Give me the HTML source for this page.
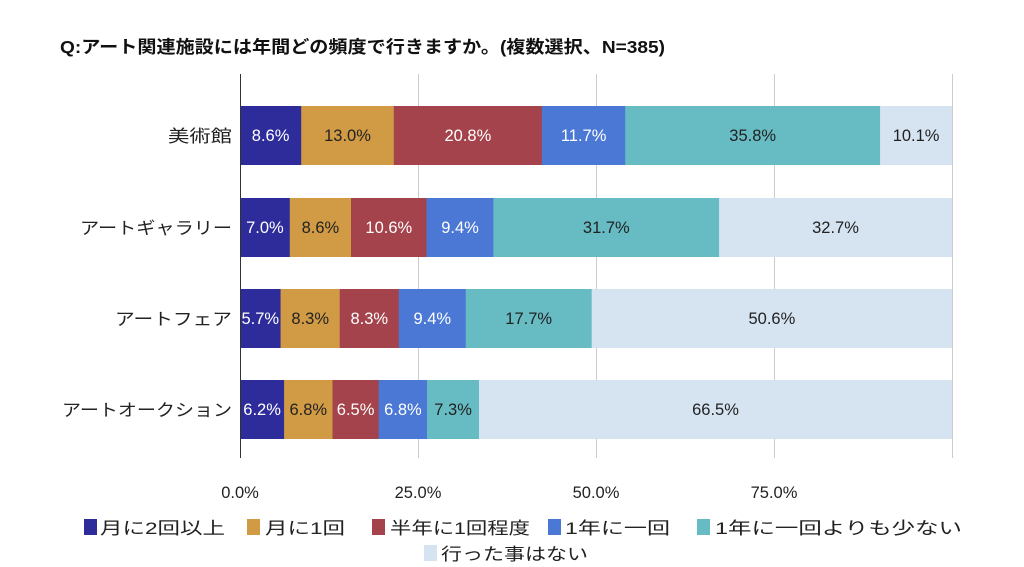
<!DOCTYPE html>
<html><head><meta charset="utf-8"><style>
body{margin:0;background:#fff;}
svg text{font-family:"Liberation Sans","Noto Sans CJK JP",sans-serif;}
</style></head><body>
<svg width="1024" height="562" xmlns="http://www.w3.org/2000/svg">
<rect width="1024" height="562" fill="#fff"/>
<text x="60" y="53" font-size="17.5" font-weight="bold" fill="#111" textLength="605" lengthAdjust="spacingAndGlyphs">Q:アート関連施設には年間どの頻度で行きますか。(複数選択、N=385)</text>
<g stroke="#ccc" stroke-width="1">
<line x1="418.5" y1="74" x2="418.5" y2="458"/>
<line x1="596.5" y1="74" x2="596.5" y2="458"/>
<line x1="774.5" y1="74" x2="774.5" y2="458"/>
<line x1="952.5" y1="74" x2="952.5" y2="458"/>
</g>
<g>
<rect x="240" y="106" width="61.5" height="59" fill="#2e2c9a"/>
<rect x="301.2" y="106" width="92.9" height="59" fill="#d19a45"/>
<rect x="393.8" y="106" width="148.4" height="59" fill="#a4434b"/>
<rect x="541.9" y="106" width="83.6" height="59" fill="#4a78d4"/>
<rect x="625.2" y="106" width="255.2" height="59" fill="#67bcc3"/>
<rect x="880.1" y="106" width="71.9" height="59" fill="#d6e3f1"/>

<rect x="240" y="198" width="50.1" height="59" fill="#2e2c9a"/>
<rect x="289.8" y="198" width="61.5" height="59" fill="#d19a45"/>
<rect x="351" y="198" width="75.8" height="59" fill="#a4434b"/>
<rect x="426.5" y="198" width="67.2" height="59" fill="#4a78d4"/>
<rect x="493.4" y="198" width="226" height="59" fill="#67bcc3"/>
<rect x="719.1" y="198" width="232.9" height="59" fill="#d6e3f1"/>

<rect x="240" y="289" width="40.9" height="59" fill="#2e2c9a"/>
<rect x="280.6" y="289" width="59.4" height="59" fill="#d19a45"/>
<rect x="339.7" y="289" width="59.4" height="59" fill="#a4434b"/>
<rect x="398.8" y="289" width="67.2" height="59" fill="#4a78d4"/>
<rect x="465.7" y="289" width="126.3" height="59" fill="#67bcc3"/>
<rect x="591.7" y="289" width="360.3" height="59" fill="#d6e3f1"/>

<rect x="240" y="380" width="44.4" height="59" fill="#2e2c9a"/>
<rect x="284.1" y="380" width="48.7" height="59" fill="#d19a45"/>
<rect x="332.5" y="380" width="46.5" height="59" fill="#a4434b"/>
<rect x="378.7" y="380" width="48.7" height="59" fill="#4a78d4"/>
<rect x="427.1" y="380" width="52.2" height="59" fill="#67bcc3"/>
<rect x="479" y="380" width="473" height="59" fill="#d6e3f1"/>
</g>
<g font-size="16.5" text-anchor="middle">
<text x="270.6" y="141" fill="#fff">8.6%</text>
<text x="347.5" y="141" fill="#222">13.0%</text>
<text x="467.9" y="141" fill="#fff">20.8%</text>
<text x="583.6" y="141" fill="#fff">11.7%</text>
<text x="752.7" y="141" fill="#222">35.8%</text>
<text x="916.1" y="141" fill="#222">10.1%</text>

<text x="264.9" y="233" fill="#fff">7.0%</text>
<text x="320.4" y="233" fill="#222">8.6%</text>
<text x="388.8" y="233" fill="#fff">10.6%</text>
<text x="460" y="233" fill="#fff">9.4%</text>
<text x="606.3" y="233" fill="#222">31.7%</text>
<text x="835.5" y="233" fill="#222">32.7%</text>

<text x="260.3" y="324" fill="#fff">5.7%</text>
<text x="310.2" y="324" fill="#222">8.3%</text>
<text x="369.3" y="324" fill="#fff">8.3%</text>
<text x="432.3" y="324" fill="#fff">9.4%</text>
<text x="528.7" y="324" fill="#222">17.7%</text>
<text x="771.9" y="324" fill="#222">50.6%</text>

<text x="262.1" y="415" fill="#fff">6.2%</text>
<text x="308.3" y="415" fill="#222">6.8%</text>
<text x="355.6" y="415" fill="#fff">6.5%</text>
<text x="402.9" y="415" fill="#fff">6.8%</text>
<text x="453.1" y="415" fill="#222">7.3%</text>
<text x="715.5" y="415" fill="#222">66.5%</text>
</g>
<line x1="240.5" y1="74" x2="240.5" y2="458" stroke="#333" stroke-width="1"/>
<g font-size="17" fill="#222" text-anchor="end">
<text x="232" y="142" textLength="64" lengthAdjust="spacingAndGlyphs">美術館</text>
<text x="232" y="234" textLength="152" lengthAdjust="spacingAndGlyphs">アートギャラリー</text>
<text x="232" y="325" textLength="117" lengthAdjust="spacingAndGlyphs">アートフェア</text>
<text x="232" y="416" textLength="170" lengthAdjust="spacingAndGlyphs">アートオークション</text>
</g>
<g font-size="16.5" fill="#222" text-anchor="middle">
<text x="240" y="498">0.0%</text>
<text x="418" y="498">25.0%</text>
<text x="596" y="498">50.0%</text>
<text x="774" y="498">75.0%</text>
</g>
<g font-size="17" fill="#222">
<rect x="84" y="519" width="13" height="16" fill="#2e2c9a"/><text x="100" y="534" textLength="125" lengthAdjust="spacingAndGlyphs">月に2回以上</text>
<rect x="247" y="519" width="13" height="16" fill="#d19a45"/><text x="265" y="534" textLength="80" lengthAdjust="spacingAndGlyphs">月に1回</text>
<rect x="372" y="519" width="13" height="16" fill="#a4434b"/><text x="390" y="534" textLength="140" lengthAdjust="spacingAndGlyphs">半年に1回程度</text>
<rect x="548" y="519" width="13" height="16" fill="#4a78d4"/><text x="565" y="534" textLength="105" lengthAdjust="spacingAndGlyphs">1年に一回</text>
<rect x="697" y="519" width="13" height="16" fill="#67bcc3"/><text x="715" y="534" textLength="247" lengthAdjust="spacingAndGlyphs">1年に一回よりも少ない</text>
<rect x="424" y="545" width="13" height="16" fill="#d6e3f1"/><text x="441" y="560" textLength="147" lengthAdjust="spacingAndGlyphs">行った事はない</text>
</g>
</svg>
</body></html>
